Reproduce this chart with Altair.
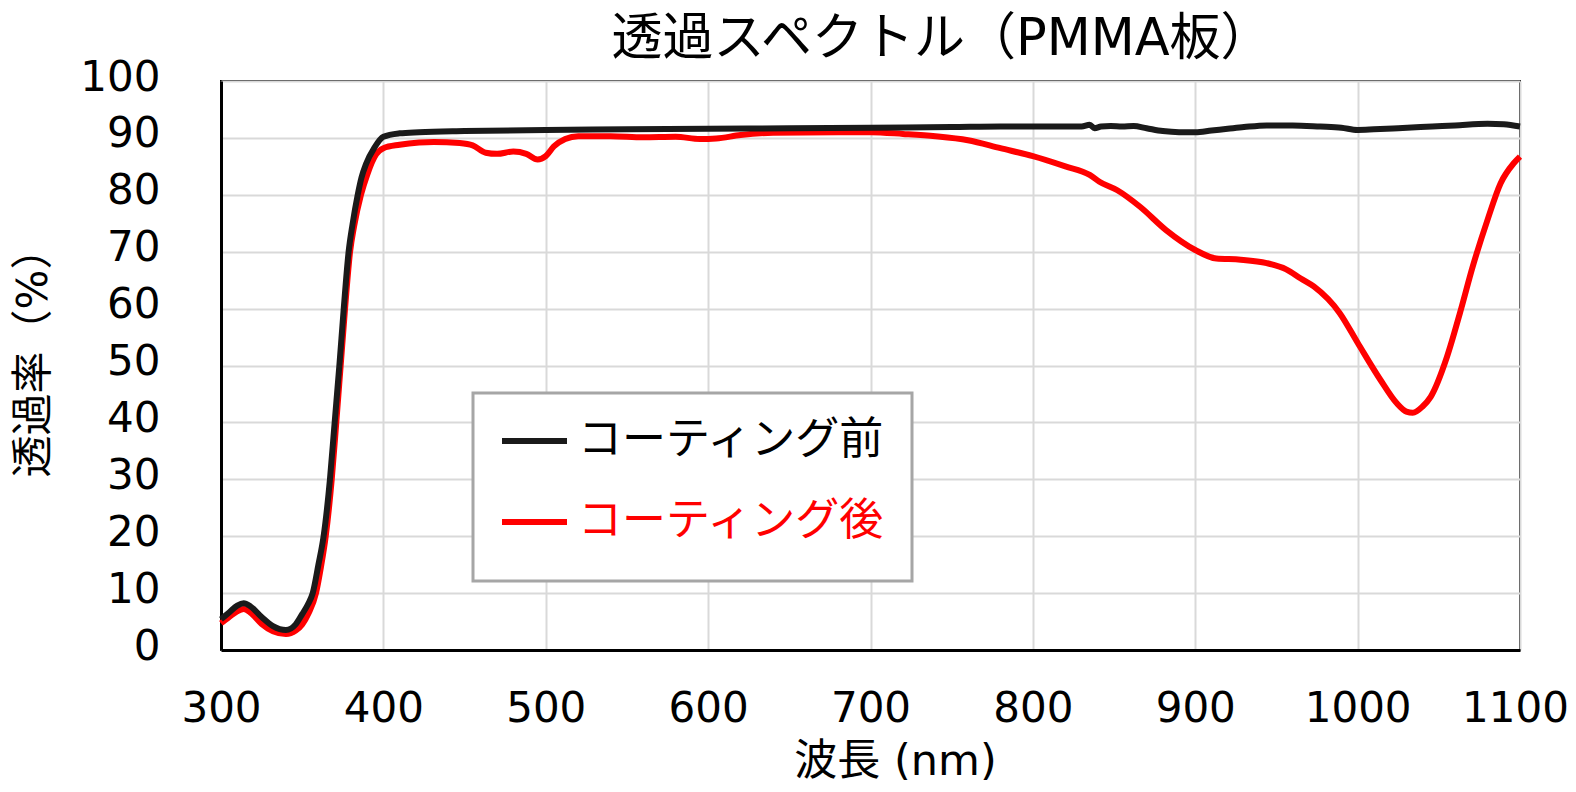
import altair as alt
import pandas as pd

FONT = "DejaVu Sans, Noto Sans CJK JP"

series_names = ["コーティング前", "コーティング後"]
series_colors = ["#1a1a1a", "#ff0000"]

x_ticks = [300, 400, 500, 600, 700, 800, 900, 1000, 1100]
y_ticks = [0, 10, 20, 30, 40, 50, 60, 70, 80, 90, 100]

black_nm = [300, 305, 310, 314, 318, 325, 332, 340, 346, 350,
            353.5, 356.5, 360, 363.2, 367.1, 370, 372.9, 375.6, 378.6, 381,
            384.2, 386.5, 389.3, 394.5, 400, 410, 422, 450, 500, 550,
            600, 650, 700, 750, 780, 800, 820, 830, 835, 838,
            842, 848, 855, 862, 870, 880, 890, 900, 910, 920,
            930, 944, 960, 977, 990, 1000, 1010, 1025, 1046, 1060,
            1080, 1090, 1100]
black_T = [5.4, 6.6, 7.8, 8.2, 7.7, 5.8, 4.2, 3.5, 4.5, 6.3,
           8.0, 10.0, 15.0, 20.0, 30.0, 40.0, 50.0, 60.0, 70.0, 74.8,
           80.0, 83.0, 85.4, 88.3, 90.2, 90.8, 91.0, 91.2, 91.4, 91.5,
           91.6, 91.7, 91.8, 91.9, 92.0, 92.0, 92.0, 92.0, 92.3, 91.7,
           92.0, 92.1, 92.0, 92.1, 91.7, 91.2, 91.0, 91.0, 91.3, 91.6,
           91.9, 92.2, 92.2, 92.0, 91.8, 91.4, 91.5, 91.7, 92.0, 92.2,
           92.5, 92.4, 92.0]

red_nm = [300, 305, 310, 314, 318, 325, 332, 340, 346, 350,
          354, 358.5, 361.5, 364.5, 368.2, 371, 373.7, 376.4, 379.5, 382,
          386.2, 390, 395.5, 400, 410, 422, 431, 447, 455, 463,
          470, 480, 488, 495, 500, 505, 512, 520, 540, 560,
          580, 595, 605, 620, 640, 680, 700, 720, 740, 760,
          780, 800, 820, 835, 841, 852, 866, 882, 900, 913,
          928, 944, 956, 965, 973, 989, 1000, 1014, 1024, 1030,
          1034, 1040, 1045, 1055, 1063, 1071, 1080, 1088, 1096, 1100]
red_T = [4.7, 5.8, 6.8, 7.2, 6.6, 4.6, 3.3, 2.8, 3.4, 4.5,
         6.5, 10.0, 14.5, 20.0, 30.0, 40.0, 50.0, 60.0, 70.0, 74.5,
         80.0, 83.5, 87.1, 88.2, 88.8, 89.2, 89.3, 89.1, 88.7, 87.4,
         87.2, 87.6, 87.2, 86.2, 86.8, 88.5, 89.8, 90.3, 90.3, 90.1,
         90.2, 89.8, 89.9, 90.5, 90.9, 91.0, 91.0, 90.7, 90.3, 89.6,
         88.2, 86.8, 85.0, 83.5, 82.3, 80.8, 77.9, 73.8, 70.3, 68.8,
         68.6, 68.0, 66.9, 65.3, 63.9, 59.2, 54.0, 47.5, 43.4, 41.9,
         41.7, 42.8, 44.5, 51.5, 59.2, 67.5, 75.6, 82.0, 85.5, 86.7]

df_black = pd.DataFrame({"nm": black_nm, "T": black_T, "series": series_names[0]})
df_red = pd.DataFrame({"nm": red_nm, "T": red_T, "series": series_names[1]})

x_enc = alt.X(
    "nm:Q",
    scale=alt.Scale(domain=[300, 1100], nice=False, zero=False),
    axis=alt.Axis(
        values=x_ticks, title="波長 (nm)", format="d",
        labelFont=FONT, labelFontSize=42, labelColor="black", labelPadding=38,
        labelFlush=False,
        labelOffset={"condition": {"test": "datum.value === 1100", "value": -5}, "value": 0},
        ticks=False, tickSize=0,
        titleFont=FONT, titleFontSize=43, titleFontWeight="normal", titleColor="black",
        titleX=674, titleY=111, titleAlign="center", titleBaseline="middle",
        domainColor="black", domainWidth=3,
        gridColor="#d9d9d9", gridWidth=2,
    ),
)
y_enc = alt.Y(
    "T:Q",
    scale=alt.Scale(domain=[0, 100], nice=False),
    axis=alt.Axis(
        values=y_ticks, title="透過率（%）", format="d",
        labelFont=FONT, labelFontSize=42, labelColor="black", labelPadding=61,
        labelOffset=-4,
        ticks=False, tickSize=0,
        titleFont=FONT, titleFontSize=42, titleFontWeight="normal", titleColor="black",
        titleX=-188, titleY=271, titleAngle=270, titleAlign="center", titleBaseline="middle",
        domainColor="black", domainWidth=3,
        gridColor="#d9d9d9", gridWidth=2,
    ),
)
color_enc = alt.Color(
    "series:N",
    scale=alt.Scale(domain=series_names, range=series_colors),
    legend=alt.Legend(
        title="\u00a0", titleOrient="bottom", titleFontSize=8, titlePadding=3,
        titleFont=FONT,
        orient="none", legendX=252, legendY=312,
        symbolType="stroke", symbolSize=4225, symbolStrokeWidth=6,
        symbolOffset=0, clipHeight=44,
        labelFont=FONT, labelFontSize=44, labelLimit=0, labelOffset=8,
        labelColor=alt.ExprRef("datum.label == 'コーティング後' ? '#ff0000' : '#000000'"),
        padding=26, rowPadding=37,
        fillColor="white", strokeColor="#a6a6a6",
    ),
)

red = alt.Chart(df_red).mark_line(strokeWidth=6, interpolate="monotone").encode(
    x=x_enc, y=y_enc, color=color_enc
)
black = alt.Chart(df_black).mark_line(strokeWidth=6, interpolate="monotone").encode(
    x=x_enc, y=y_enc, color=color_enc
)

chart = alt.layer(red, black).properties(
    width=1299,
    height=569,
    title=alt.TitleParams(
        text="透過スペクトル（PMMA板）", font=FONT, fontSize=51, fontWeight="normal",
        color="black", anchor="middle", dx=71, dy=24, offset=14,
    ),
    autosize=alt.AutoSizeParams(type="none"),
    padding={"left": 213, "top": 73, "right": 48, "bottom": 134},
).configure_view(stroke="black", strokeWidth=2).configure_legend(strokeWidth=3)

chart.save("out.html", embed_options={"renderer": "svg", "actions": False})
